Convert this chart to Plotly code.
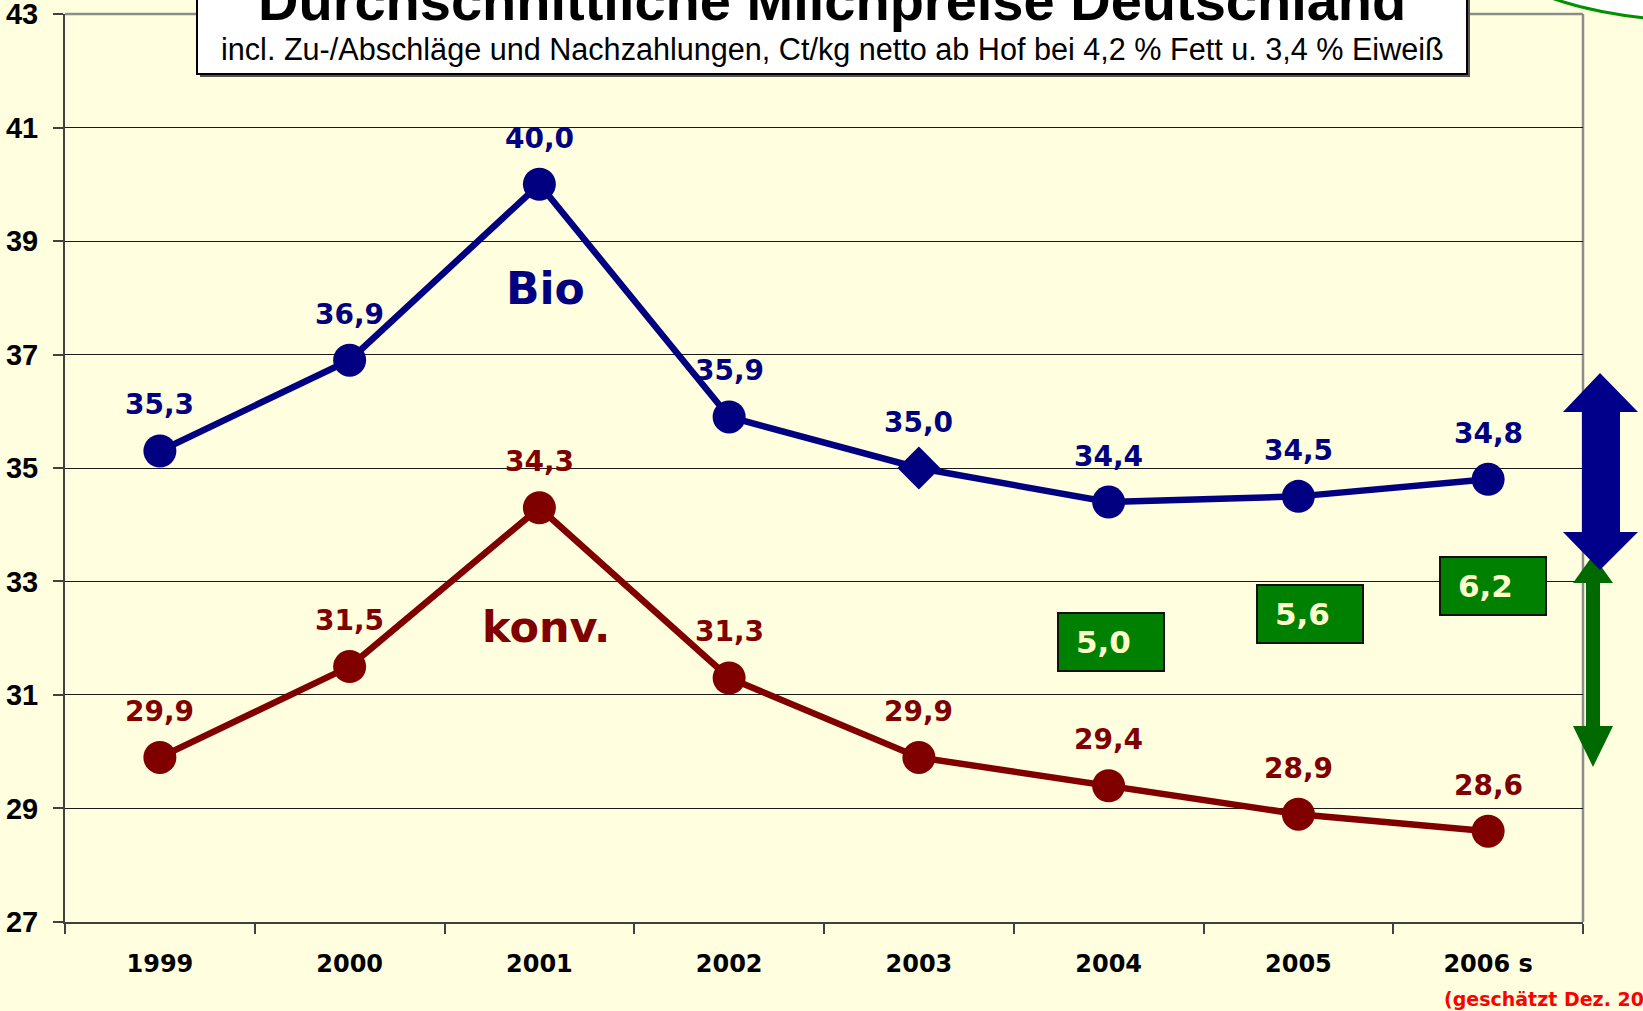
import plotly.graph_objects as go

# ---------------- data ----------------
years = ["1999", "2000", "2001", "2002", "2003", "2004", "2005", "2006 s"]
bio = [35.3, 36.9, 40.0, 35.9, 35.0, 34.4, 34.5, 34.8]
konv = [29.9, 31.5, 34.3, 31.3, 29.9, 29.4, 28.9, 28.6]
y_ticks = [27, 29, 31, 33, 35, 37, 39, 41, 43]
diff_years_idx = [5, 6, 7]          # years where the price gap is boxed
title_text = "Durchschnittliche Milchpreise Deutschland"
subtitle_text = "incl. Zu-/Abschläge und Nachzahlungen, Ct/kg netto ab Hof bei 4,2 % Fett u. 3,4 % Eiweiß"
note_text = "(geschätzt Dez. 2006)"

# ---------------- layout geometry ----------------
W, H = 1643, 1011
L, R, T, B = 65, 1583, 14, 922   # plot area in pixels


def px(x):
    return (x - L) / (R - L)


def py(y):
    return (B - y) / (B - T)


BG = "#FFFEDF"
NAVY = "#000080"
MAROON = "#800000"
GREEN = "#008000"
DKGREEN = "#006A00"


def fmt(v):
    return f"{v:.1f}".replace(".", ",")


fig = go.Figure()

bio_symbols = ["circle"] * len(years)
bio_symbols[4] = "diamond"

fig.add_trace(go.Scatter(
    x=years, y=bio, mode="lines+markers",
    line=dict(color=NAVY, width=6.5),
    marker=dict(color=NAVY, size=33, symbol=bio_symbols, line=dict(width=0)),
    hoverinfo="skip"))
fig.add_trace(go.Scatter(
    x=years, y=konv, mode="lines+markers",
    line=dict(color=MAROON, width=6.5),
    marker=dict(color=MAROON, size=33, line=dict(width=0)),
    hoverinfo="skip"))

annotations = []
lab_font = dict(family="DejaVu Sans", size=28, weight="bold")
for i, v in enumerate(bio):
    annotations.append(dict(x=i, y=v, xref="x", yref="y", text=fmt(v), showarrow=False, yshift=46,
                            xanchor="center", yanchor="middle",
                            font=dict(lab_font, color=NAVY)))
for i, v in enumerate(konv):
    annotations.append(dict(x=i, y=v, xref="x", yref="y", text=fmt(v), showarrow=False, yshift=46,
                            xanchor="center", yanchor="middle",
                            font=dict(lab_font, color=MAROON)))

# series names
annotations.append(dict(xref="paper", yref="paper", x=px(545), y=py(288), text="Bio",
                        xanchor="center", yanchor="middle", showarrow=False,
                        font=dict(family="DejaVu Sans", size=44, weight="bold", color=NAVY)))
annotations.append(dict(xref="paper", yref="paper", x=px(546), y=py(627), text="konv.",
                        xanchor="center", yanchor="middle", showarrow=False,
                        font=dict(family="DejaVu Sans", size=43, weight="bold", color=MAROON)))

shapes = []
# difference boxes (centre pixel positions of the boxes)
box_centres = [(1111, 642), (1310, 614), (1493, 586)]
bw, bh = 106, 58
for idx, (cx, cy) in zip(diff_years_idx, box_centres):
    d = bio[idx] - konv[idx]
    shapes.append(dict(type="rect", xref="paper", yref="paper",
                       x0=px(cx - bw / 2), x1=px(cx + bw / 2), y0=py(cy + bh / 2), y1=py(cy - bh / 2),
                       fillcolor=GREEN, line=dict(color="#111111", width=2), layer="above"))
    annotations.append(dict(xref="paper", yref="paper", x=px(cx - bw / 2 + 16), y=py(cy),
                            xanchor="left", yanchor="middle", text=fmt(d), showarrow=False,
                            font=dict(family="DejaVu Sans", size=31, weight="bold", color="#FFFFCC")))

# plot frame (top & right, grey)
shapes.append(dict(type="line", xref="paper", yref="paper", x0=0, x1=1, y0=1, y1=1,
                   line=dict(color="#8C8C8C", width=2.5), layer="below"))
shapes.append(dict(type="line", xref="paper", yref="paper", x0=1, x1=1, y0=0, y1=1,
                   line=dict(color="#8C8C8C", width=2.5), layer="below"))

# green circle top-right
shapes.append(dict(type="circle", xref="paper", yref="paper",
                   x0=px(1690 - 240), x1=px(1690 + 240), y0=py(20), y1=py(-220),
                   fillcolor="white", line=dict(color="#009000", width=3)))

# title box with shadow
shapes.append(dict(type="rect", xref="paper", yref="paper",
                   x0=px(200), x1=px(1470), y0=py(77), y1=py(-30),
                   fillcolor="#555555", line=dict(width=0)))
shapes.append(dict(type="rect", xref="paper", yref="paper",
                   x0=px(197), x1=px(1467), y0=py(74), y1=py(-30),
                   fillcolor="white", line=dict(color="black", width=2)))

annotations.append(dict(xref="paper", yref="paper", x=px(832), y=py(21), xanchor="center", yanchor="bottom",
                        text=title_text, showarrow=False, yshift=-13,
                        font=dict(family="Liberation Sans, Arial", size=56, weight="bold", color="black")))
annotations.append(dict(xref="paper", yref="paper", x=px(832), y=py(50), xanchor="center", yanchor="middle",
                        text=subtitle_text, showarrow=False,
                        font=dict(family="Liberation Sans, Arial", size=30.6, color="black")))


def arrow_path(pts):
    return "M " + " L ".join(f"{px(x):.5f},{py(y):.5f}" for x, y in pts) + " Z"


green_pts = [(1593, 555), (1613, 583), (1600, 583), (1600, 726), (1613, 726), (1593, 767),
             (1573, 726), (1586, 726), (1586, 583), (1573, 583)]
blue_pts = [(1600, 373), (1638, 412), (1620, 412), (1620, 532), (1638, 532), (1600, 570),
            (1563, 532), (1582, 532), (1582, 412), (1563, 412)]
shapes.append(dict(type="path", xref="paper", yref="paper", path=arrow_path(green_pts),
                   fillcolor=DKGREEN, line=dict(width=0)))
shapes.append(dict(type="path", xref="paper", yref="paper", path=arrow_path(blue_pts),
                   fillcolor="#00008B", line=dict(width=0)))

annotations.append(dict(xref="paper", yref="paper", x=px(1442), y=py(999), xanchor="left", yanchor="middle",
                        text=note_text, showarrow=False,
                        font=dict(family="DejaVu Sans", size=19, weight="bold", color="#FF0000")))

fig.update_layout(
    width=W, height=H,
    margin=dict(l=L, r=W - R, t=T, b=H - B, pad=0, autoexpand=False),
    paper_bgcolor=BG, plot_bgcolor=BG,
    showlegend=False, hovermode=False,
    shapes=shapes, annotations=annotations,
)
fig.update_xaxes(
    type="category", categoryorder="array", categoryarray=years,
    range=[-0.5, len(years) - 0.5], automargin=False,
    showgrid=False, zeroline=False,
    showline=True, linecolor="#404040", linewidth=2,
    ticks="outside", tickson="boundaries", ticklen=10, tickcolor="#404040", tickwidth=1.5,
    tickfont=dict(family="DejaVu Sans", size=24, weight="bold", color="black"),
    ticklabelstandoff=19,
)
fig.update_yaxes(
    range=[26.9995, 43.0005], tickvals=y_ticks, ticktext=[str(t) for t in y_ticks],
    automargin=False, ticklabeloverflow="allow",
    showgrid=True, gridcolor="#1a1a1a", gridwidth=1, zeroline=False,
    showline=True, linecolor="#404040", linewidth=2,
    ticks="outside", ticklen=10, tickcolor="#404040", tickwidth=1.5,
    tickfont=dict(family="Liberation Sans, Arial", size=29, weight="bold", color="black"),
    ticklabelstandoff=9,
)

fig.write_html("out.html", config={"displayModeBar": False},
               post_script="document.body.style.margin='0px';document.body.style.overflow='hidden';")
